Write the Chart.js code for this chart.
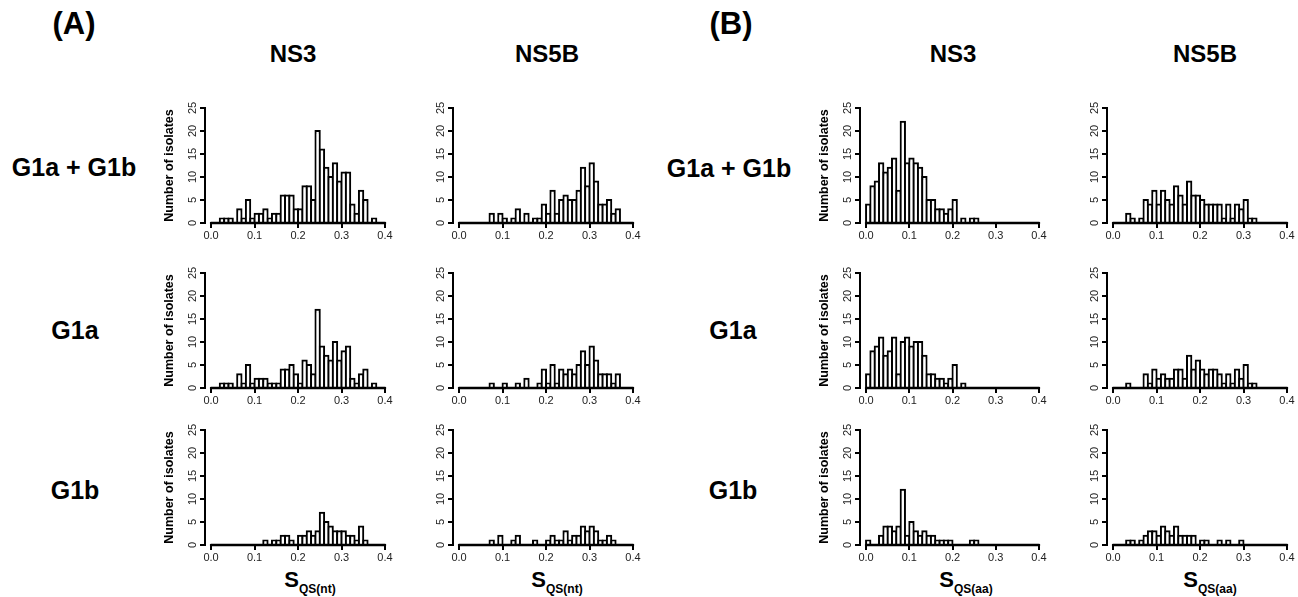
<!DOCTYPE html>
<html><head><meta charset="utf-8">
<script src="https://cdn.jsdelivr.net/npm/chart.js@4.4.1/dist/chart.umd.min.js"></script>
<style>
html,body{margin:0;padding:0;background:#fff;overflow:hidden;width:1298px;height:597px;}
body{position:relative;font-family:"Liberation Sans", Arial, Helvetica, sans-serif;color:#000;}
.lbl{position:absolute;font-weight:bold;white-space:nowrap;transform:translate(-50%,-50%);line-height:1;}
.xt{position:absolute;font-weight:bold;white-space:nowrap;transform:translateX(-50%);line-height:1;font-size:22px;}
.xt sub{font-size:12px;vertical-align:-6px;}
canvas{position:absolute;}
</style></head><body>
<div class="lbl" style="left:74px;top:23px;font-size:31px;">(A)</div>
<div class="lbl" style="left:731px;top:23px;font-size:31px;">(B)</div>
<div class="lbl" style="left:293px;top:54px;font-size:24px;">NS3</div>
<div class="lbl" style="left:547px;top:54px;font-size:24px;">NS5B</div>
<div class="lbl" style="left:953px;top:54px;font-size:24px;">NS3</div>
<div class="lbl" style="left:1205px;top:54px;font-size:24px;">NS5B</div>
<div class="lbl" style="left:74px;top:167px;font-size:25px;">G1a + G1b</div>
<div class="lbl" style="left:75px;top:330px;font-size:25px;">G1a</div>
<div class="lbl" style="left:75px;top:490px;font-size:25px;">G1b</div>
<div class="lbl" style="left:729px;top:168px;font-size:25px;">G1a + G1b</div>
<div class="lbl" style="left:733px;top:330px;font-size:25px;">G1a</div>
<div class="lbl" style="left:733px;top:490px;font-size:25px;">G1b</div>
<div class="xt" style="left:310px;top:569px;">S<sub>QS(nt)</sub></div>
<div class="xt" style="left:557px;top:569px;">S<sub>QS(nt)</sub></div>
<div class="xt" style="left:966px;top:569px;">S<sub>QS(aa)</sub></div>
<div class="xt" style="left:1210px;top:569px;">S<sub>QS(aa)</sub></div>
<script>
// ---- data ----
const binLefts = [0.00,0.01,0.02,0.03,0.04,0.05,0.06,0.07,0.08,0.09,
                  0.10,0.11,0.12,0.13,0.14,0.15,0.16,0.17,0.18,0.19,
                  0.20,0.21,0.22,0.23,0.24,0.25,0.26,0.27,0.28,0.29,
                  0.30,0.31,0.32,0.33,0.34,0.35,0.36,0.37,0.38,0.39];
const binWidth = 0.01;
const xTicks = [0.0, 0.1, 0.2, 0.3, 0.4];
const yTicks = [0, 5, 10, 15, 20, 25];

const ntNS3All  = [0,0,1,1,1,0,3,1,5,1, 2,2,3,1,2,2,6,6,6,3, 3,8,8,5,20,16,12,10,13,9, 11,11,4,2,7,5,0,1,0,0];
const ntNS3G1a  = [0,0,1,1,1,0,3,1,5,1, 2,2,2,1,1,1,4,4,5,3, 1,6,5,3,17,9,7,6,10,6, 8,9,2,1,3,4,0,1,0,0];
const ntNS3G1b  = [0,0,0,0,0,0,0,0,0,0, 0,0,1,0,1,1,2,2,1,0, 2,2,3,2,3,7,5,4,3,3, 3,2,2,1,4,1,0,0,0,0];
const ntNS5BAll = [0,0,0,0,0,0,0,2,0,2, 1,0,1,3,0,2,0,1,1,4, 2,7,2,5,6,5,5,7,12,8, 13,9,4,4,5,2,3,0,0,0];
const ntNS5BG1a = [0,0,0,0,0,0,0,1,0,0, 1,0,0,1,0,2,0,0,1,4, 1,5,1,4,3,4,3,5,8,5, 9,6,3,3,3,1,3,0,0,0];
const ntNS5BG1b = [0,0,0,0,0,0,0,1,0,2, 0,0,1,2,0,0,0,1,0,0, 1,2,1,1,3,1,2,2,4,3, 4,3,1,1,2,1,0,0,0,0];
const aaNS3All  = [4,8,9,13,11,12,14,7,22,13, 14,13,12,10,5,5,3,3,2,3, 5,0,1,0,1,1,0,0,0,0, 0,0,0,0,0,0,0,0,0,0];
const aaNS3G1a  = [3,8,9,11,7,8,11,3,10,11, 9,10,10,7,3,3,2,2,1,2, 5,0,1,0,0,0,0,0,0,0, 0,0,0,0,0,0,0,0,0,0];
const aaNS3G1b  = [1,0,0,2,4,4,3,4,12,2, 5,3,2,3,2,2,1,1,1,1, 0,0,0,0,1,1,0,0,0,0, 0,0,0,0,0,0,0,0,0,0];
const aaNS5BAll = [0,0,0,2,1,0,1,5,4,7, 4,7,5,4,8,6,4,9,6,6, 5,4,4,4,4,1,4,1,4,3, 5,1,1,0,0,0,0,0,0,0];
const aaNS5BG1a = [0,0,0,1,0,0,0,3,1,4, 2,3,2,2,4,4,2,7,4,6, 4,3,4,4,3,1,3,1,4,2, 5,1,1,0,0,0,0,0,0,0];
const aaNS5BG1b = [0,0,0,1,1,0,1,2,3,3, 2,4,3,2,4,2,2,2,2,0, 1,1,0,0,1,0,1,0,0,1, 0,0,0,0,0,0,0,0,0,0];

const yTitle = 'Number of isolates';

// ---- layout ----
const FONT = '"Liberation Sans", Arial, Helvetica, sans-serif';
const Y_W = 60, PAD_R = 14, PAD_T = 10, X_H = 26;
const cols = [{axis:205, right:384.5}, {axis:453, right:633}, {axis:860, right:1039}, {axis:1107, right:1287}];
const rows = [{top:108, bottom:223}, {top:272.5, bottom:387}, {top:429.5, bottom:544}];
const panels = [
  {c:0,r:0,d:ntNS3All,t:true},{c:1,r:0,d:ntNS5BAll,t:false},{c:2,r:0,d:aaNS3All,t:true},{c:3,r:0,d:aaNS5BAll,t:false},
  {c:0,r:1,d:ntNS3G1a,t:true},{c:1,r:1,d:ntNS5BG1a,t:false},{c:2,r:1,d:aaNS3G1a,t:true},{c:3,r:1,d:aaNS5BG1a,t:false},
  {c:0,r:2,d:ntNS3G1b,t:true},{c:1,r:2,d:ntNS5BG1b,t:false},{c:2,r:2,d:aaNS3G1b,t:true},{c:3,r:2,d:aaNS5BG1b,t:false}
];

const baselinePlugin = {
  id: 'baseline',
  afterDatasetsDraw(chart) {
    const {ctx, scales: {x, y}} = chart;
    ctx.save();
    ctx.strokeStyle = '#000';
    ctx.lineWidth = 2.5;
    ctx.lineCap = 'round';
    ctx.beginPath();
    ctx.moveTo(x.getPixelForValue(xTicks[0]), y.getPixelForValue(0));
    ctx.lineTo(x.getPixelForValue(xTicks[xTicks.length - 1]), y.getPixelForValue(0));
    ctx.stroke();
    ctx.restore();
  }
};

panels.forEach(p => {
  const col = cols[p.c], row = rows[p.r];
  const cv = document.createElement('canvas');
  const left = Math.round(col.axis - Y_W);
  const w = Math.round(col.right - col.axis + Y_W + PAD_R);
  const top = Math.round(row.top - PAD_T);
  const h = Math.round(PAD_T + (row.bottom - row.top) + X_H);
  cv.width = w; cv.height = h;
  cv.style.left = left + 'px'; cv.style.top = top + 'px';
  cv.style.width = w + 'px'; cv.style.height = h + 'px';
  document.body.appendChild(cv);

  new Chart(cv, {
    type: 'bar',
    data: {
      datasets: [{
        data: binLefts.map((b, i) => ({x: b + binWidth / 2, y: p.d[i]})),
        backgroundColor: '#fff',
        borderColor: '#000',
        borderWidth: 2,
        inflateAmount: 1,
        borderSkipped: 'start',
        barPercentage: 1,
        categoryPercentage: 1
      }]
    },
    options: {
      responsive: false,
      animation: false,
      devicePixelRatio: 1,
      layout: {padding: {left: 0, right: PAD_R, top: PAD_T, bottom: 0}},
      plugins: {legend: {display: false}, tooltip: {enabled: false}},
      scales: {
        x: {
          type: 'linear', min: -0.014, max: 0.4, offset: false,
          afterBuildTicks: s => { s.ticks = xTicks.map(v => ({value: v})); },
          afterFit: s => { s.height = X_H; },
          ticks: {callback: v => v.toFixed(1), font: {family: FONT, size: 11}, color: '#222',
                  padding: 1, maxRotation: 0, minRotation: 0, autoSkip: false},
          grid: {drawOnChartArea: false, drawTicks: true, tickLength: 5, color: '#000', lineWidth: 2, offset: false},
          border: {display: false}
        },
        y: {
          min: 0, max: 25,
          afterBuildTicks: s => { s.ticks = yTicks.map(v => ({value: v})); },
          afterFit: s => { s.width = Y_W; },
          ticks: {font: {family: FONT, size: 11}, color: '#222', minRotation: 90, maxRotation: 90,
                  crossAlign: 'center', padding: 1},
          grid: {drawOnChartArea: false, drawTicks: true, tickLength: 5, color: '#000', lineWidth: 2},
          border: {display: true, color: '#000', width: 2},
          title: {display: p.t, text: yTitle, font: {family: FONT, size: 12.5, weight: 'bold'}, color: '#000',
                  padding: {top: 17, bottom: 0}}
        }
      }
    },
    plugins: [baselinePlugin]
  });
});
</script>
</body></html>
